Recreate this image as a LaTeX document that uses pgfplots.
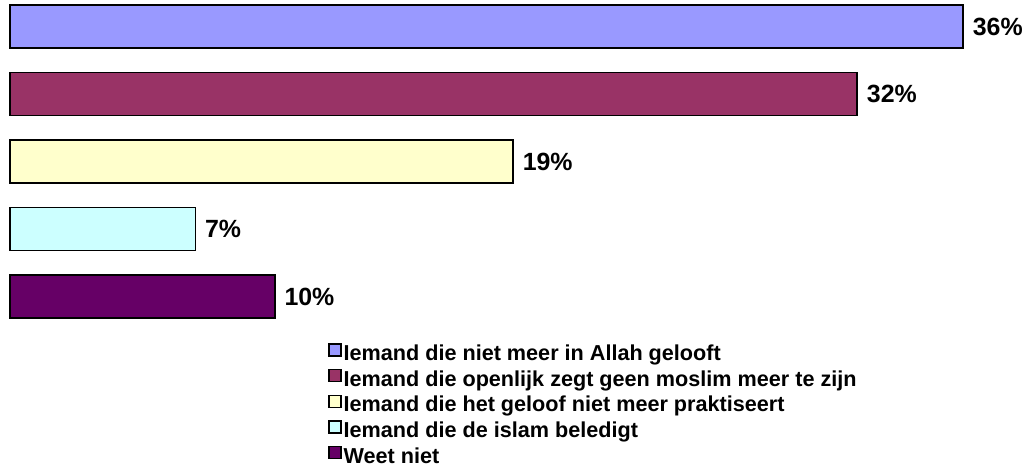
\documentclass[border=0pt]{standalone}
\usepackage{fontspec}
\setmainfont{Liberation Sans}
\usepackage{pgfplots}
\pgfplotsset{compat=1.18}
\definecolor{c1}{HTML}{9999FF}
\definecolor{c2}{HTML}{993366}
\definecolor{c3}{HTML}{FFFFCC}
\definecolor{c4}{HTML}{CCFFFF}
\definecolor{c5}{HTML}{660066}
\begin{document}
\begin{tikzpicture}[x=1bp,y=1bp]
\useasboundingbox (0,0) rectangle (1027,-470);
\begin{axis}[
  at={(10bp,-26.5bp)}, anchor=north west,
  scale only axis, width=953bp, height=270bp,
  xmin=0, xmax=36, ymin=1, ymax=5,
  hide axis, clip=false,
  xbar, bar width=43bp, bar shift=0pt,
  point meta=explicit symbolic,
  nodes near coords,
  nodes near coords style={anchor=west, inner sep=0pt, xshift=9bp, font=\fontsize{25}{28}\selectfont\bfseries, text=black},
  every axis plot/.append style={draw=black, line width=1.6bp},
  legend cell align=left,
  legend style={at={(0.3337,-0.172)}, anchor=north west, draw=none, fill=none,
    inner sep=0pt, row sep=4.5bp,
    font=\fontsize{21.7}{24}\selectfont\bfseries,
    nodes={inner sep=0pt, text height=15bp, text depth=4bp},
    /tikz/every odd column/.append style={column sep=2bp}},
  legend image code/.code={\draw[#1, draw=black, line width=1.4bp] (0bp,-1bp) rectangle (12bp,11bp);},
]
\addplot[fill=c1] coordinates {(36,5) [36\%]};
\addlegendentry{Iemand die niet meer in Allah gelooft}
\addplot[fill=c2] coordinates {(32,4) [32\%]};
\addlegendentry{Iemand die openlijk zegt geen moslim meer te zijn}
\addplot[fill=c3] coordinates {(19,3) [19\%]};
\addlegendentry{Iemand die het geloof niet meer praktiseert}
\addplot[fill=c4] coordinates {(7,2) [7\%]};
\addlegendentry{Iemand die de islam beledigt}
\addplot[fill=c5] coordinates {(10,1) [10\%]};
\addlegendentry{Weet niet}
\end{axis}
\end{tikzpicture}
\end{document}
